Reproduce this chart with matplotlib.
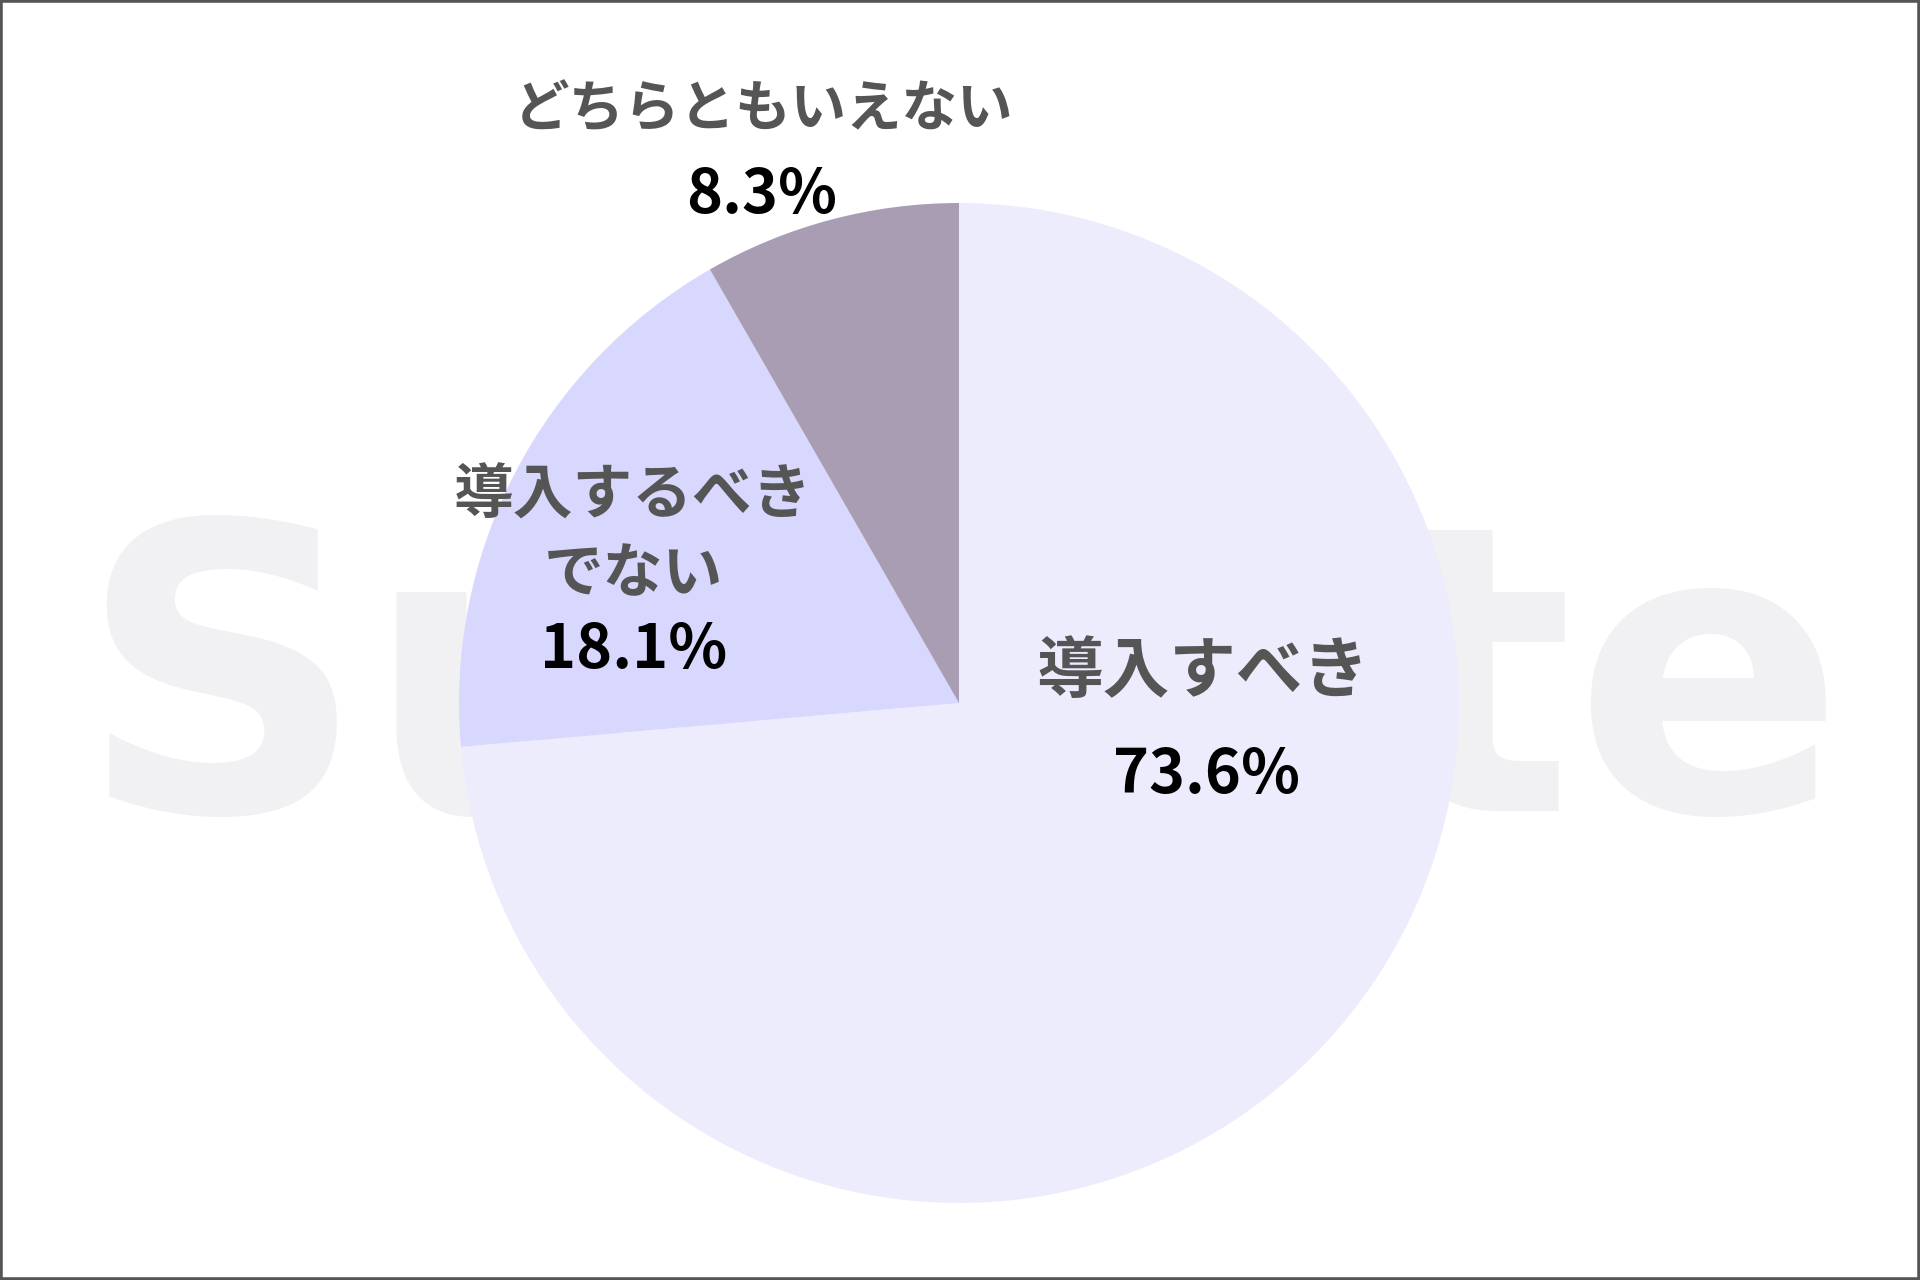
import matplotlib.pyplot as plt
from matplotlib.patches import Rectangle

labels = ["導入すべき", "導入するべき\nでない", "どちらともいえない"]
values = [73.6, 18.1, 8.3]
colors = ["#EDECFC", "#D8D8FE", "#A99DB4"]
# label anchor positions in pixels (x, y from top) for name and percent
label_pos = [(1203, 672), (633, 536), (763, 110)]
pct_pos = [(1206, 775), (634, 650), (762, 195)]
label_size = [48, 43, 40]

W, H = 1920, 1280
plt.rcParams["font.family"] = ["Noto Sans CJK JP", "DejaVu Sans"]

fig = plt.figure(figsize=(19.2, 12.8), dpi=100)
ax = fig.add_axes([0, 0, 1, 1])

# watermark behind the pie
ax.text(961, H - 811, "Survote", fontsize=288, fontweight="bold", family="DejaVu Sans",
        color="#F1F1F3", ha="center", va="baseline", zorder=0)

ax.pie(values, colors=colors, startangle=90, counterclock=False,
       center=(959, H - 703), radius=500, frame=True,
       wedgeprops=dict(linewidth=0, zorder=1))
ax.set_xlim(0, W)
ax.set_ylim(0, H)
ax.set_aspect("equal")
ax.axis("off")

for lab, (x, y), fs in zip(labels, label_pos, label_size):
    ax.text(x, H - y, lab, fontsize=fs, fontweight="bold", color="#555555",
            ha="center", va="center", linespacing=1.4, zorder=3)
for v, (x, y) in zip(values, pct_pos):
    ax.text(x, H - y, f"{v}%", fontsize=44, fontweight="bold", color="#000000",
            ha="center", va="center", zorder=3)

fig.patches.append(Rectangle((0, 0), 1, 1, transform=fig.transFigure, fill=False,
                             edgecolor="#555555", linewidth=4))

fig.savefig("out.png", dpi=100, facecolor="white")
